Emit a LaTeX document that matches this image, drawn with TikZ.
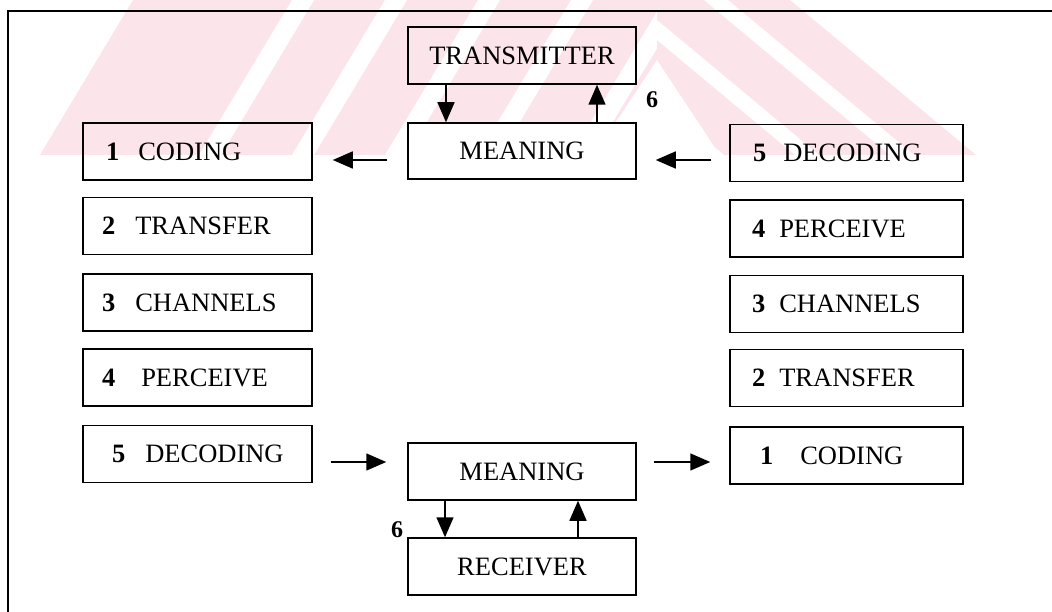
\documentclass[tikz,border=0pt]{standalone}
\usepackage{fontspec}
\setmainfont{Liberation Serif}
\usetikzlibrary{arrows.meta}
\definecolor{wmpink}{RGB}{252,229,234}
% box contents: total width, left indent, bold step number, gap, word
\newcommand\steptext[5]{\makebox[#1][l]{\hspace*{#2}\textbf{#3}\hspace*{#4}#5}}
\begin{document}
\begin{tikzpicture}[x=1pt,y=-1pt,
  box/.style={draw, line width=1.5pt, inner xsep=0pt, inner ysep=0pt,
    minimum height=57pt, text height=17.5pt, text depth=0pt,
    font=\fontsize{26.5}{30}\selectfont},
  lbox/.style={box, minimum width=229pt},
  rbox/.style={box, minimum width=233pt},
  cbox/.style={box, minimum width=228pt},
  flow/.style={line width=1.5pt, -{Triangle[length=20pt,width=17pt]}},
  six/.style={font=\fontsize{24}{28}\selectfont\bfseries}]
\useasboundingbox (0,0) rectangle (1052,612);

% faint striped logo in the top band
\begin{scope}
  \clip (40,155) -- (133,0) -- (657,0) -- (657,60) -- (594,155) -- cycle;
  \fill[wmpink] (0,0) rectangle (700,160);
  \foreach \c in {210,303,396,489,582}
    \fill[white] (\c-11,155) -- (\c+11,155) -- (\c+104,0) -- (\c+82,0) -- cycle;
\end{scope}
\begin{scope}
  \clip (657,0) -- (790,0) -- (976,155) -- (720,155) -- (657,60) -- cycle;
  \fill[wmpink] (600,0) rectangle (1000,160);
  \foreach \c in {712,807,902,997}
    \fill[white] (\c-12,155) -- (\c+12,155) -- (\c-174,0) -- (\c-198,0) -- cycle;
\end{scope}

% frame
\draw[line width=1.4pt] (8,612) -- (8,11) -- (1052,11);

% sender side
\node[cbox] (tx) at (522,55.5) {TRANSMITTER};
\node[cbox, fill=white, minimum height=56pt] (mt) at (522,151) {MEANING};

% left column
\node[lbox] (l1) at (197.5,151.5) {\steptext{229pt}{23pt}{1}{19pt}{CODING}};
\node[lbox] (l2) at (197.5,226)   {\steptext{229pt}{19pt}{2}{20pt}{TRANSFER}};
\node[lbox] (l3) at (197.5,302.5) {\steptext{229pt}{19pt}{3}{20pt}{CHANNELS}};
\node[lbox] (l4) at (197.5,377.5) {\steptext{229pt}{19pt}{4}{26pt}{PERCEIVE}};
\node[lbox] (l5) at (197.5,454)   {\steptext{229pt}{29pt}{5}{20pt}{DECODING}};

% right column
\node[rbox] (r5) at (846.5,153)   {\steptext{233pt}{23pt}{5}{17pt}{DECODING}};
\node[rbox] (r4) at (846.5,228.5) {\steptext{233pt}{22pt}{4}{14pt}{PERCEIVE}};
\node[rbox] (r3) at (846.5,304)   {\steptext{233pt}{22pt}{3}{14pt}{CHANNELS}};
\node[rbox] (r2) at (846.5,378)   {\steptext{233pt}{22pt}{2}{14pt}{TRANSFER}};
\node[rbox] (r1) at (846.5,455.5) {\steptext{233pt}{30pt}{1}{27pt}{CODING}};

% receiver side
\node[cbox] (mb) at (522,471.5) {MEANING};
\node[cbox] (rc) at (522,566.5) {RECEIVER};

\node[six] (s6a) at (652,100) {6};
\node[six] (s6b) at (397,530) {6};

% connectors
\draw[flow] ([xshift=-76pt]tx.south) -- ([xshift=-76pt]mt.north);
\draw[flow] ([xshift=75pt]mt.north) -- ([xshift=75pt]tx.south);
\draw[flow] ([xshift=-77pt]mb.south) -- ([xshift=-77pt]rc.north);
\draw[flow] ([xshift=56pt]rc.north) -- ([xshift=56pt]mb.south);

\draw[flow, shorten <=20pt, shorten >=20pt] ([yshift=-9pt]mt.west) -- ([yshift=-8.5pt]l1.east);
\draw[flow, shorten <=18pt, shorten >=19pt] ([yshift=-7pt]r5.west) -- ([yshift=-9pt]mt.east);
\draw[flow, shorten <=18pt, shorten >=21pt] ([yshift=-8pt]l5.east) -- ([yshift=9.5pt]mb.west);
\draw[flow, shorten <=17pt, shorten >=19pt] ([yshift=9.5pt]mb.east) -- ([yshift=-6.5pt]r1.west);
\end{tikzpicture}
\end{document}
